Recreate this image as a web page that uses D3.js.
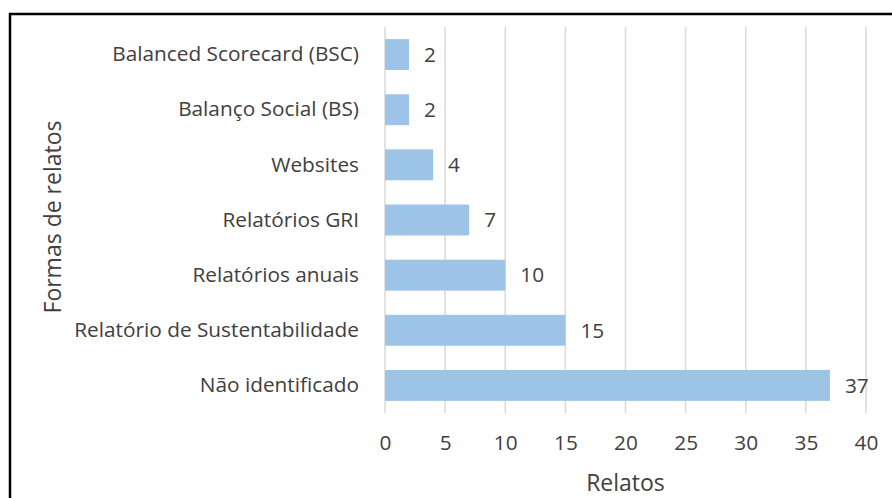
<!DOCTYPE html>
<html>
<head>
<meta charset="utf-8">
<script src="https://cdn.jsdelivr.net/npm/d3@7"></script>
<style>
  body { margin: 0; background: #fff; }
  svg text { font-family: "Open Sans", sans-serif; }
</style>
</head>
<body>
<div id="canvas"></div>
<script>
const categories = [
  "Balanced Scorecard (BSC)",
  "Balanço Social (BS)",
  "Websites",
  "Relatórios GRI",
  "Relatórios anuais",
  "Relatório de Sustentabilidade",
  "Não identificado",
];
const values = [2, 2, 4, 7, 10, 15, 37];
const xTicks = [0, 5, 10, 15, 20, 25, 30, 35, 40];
const xTitle = "Relatos";
const yTitle = "Formas de relatos";

const W = 892, H = 498;
const margin = { top: 27, right: 26, bottom: 85, left: 385 };
const width = 866 - margin.left;
const height = 413 - margin.top;

const svg = d3
  .select("#canvas")
  .append("svg")
  .attr("width", W)
  .attr("height", H);

// frame around the chart (runs off the right and bottom edges)
svg
  .append("rect")
  .attr("x", 10)
  .attr("y", 14)
  .attr("width", W)
  .attr("height", H)
  .attr("fill", "none")
  .attr("stroke", "#000")
  .attr("stroke-width", 2.5);

const g = svg
  .append("g")
  .attr("transform", "translate(" + margin.left + "," + margin.top + ")");

const x = d3.scaleLinear().domain([0, 40]).range([0, width]);
const y = d3
  .scaleBand()
  .domain(categories)
  .range([0, height])
  .paddingInner(0.44)
  .paddingOuter(0.22);

// grid
g.append("g")
  .selectAll("line")
  .data(xTicks)
  .join("line")
  .attr("x1", (d) => x(d))
  .attr("x2", (d) => x(d))
  .attr("y1", 0)
  .attr("y2", height)
  .attr("stroke", "#d9d9d9")
  .attr("stroke-width", 1.5);

// x axis labels
const xAxis = d3.axisBottom(x).tickValues(xTicks).tickSize(0).tickPadding(22);
g.append("g")
  .attr("transform", "translate(0," + height + ")")
  .call(xAxis)
  .call((s) => s.select(".domain").remove())
  .selectAll("text")
  .attr("fill", "#404040")
  .style("font-size", "20.8px");

// y axis labels
const yAxis = d3.axisLeft(y).tickSize(0).tickPadding(26);
g.append("g")
  .call(yAxis)
  .call((s) => s.select(".domain").remove())
  .selectAll("text")
  .attr("fill", "#404040")
  .style("font-size", "20.8px");

// bars
g.selectAll(".bar")
  .data(values)
  .join("rect")
  .attr("class", "bar")
  .attr("x", x(0))
  .attr("y", (d, i) => y(categories[i]))
  .attr("width", (d) => x(d) - x(0))
  .attr("height", y.bandwidth())
  .attr("fill", "#9dc3e6");

// value labels
g.selectAll(".val")
  .data(values)
  .join("text")
  .attr("class", "val")
  .attr("x", (d) => x(d) + 15)
  .attr("y", (d, i) => y(categories[i]) + y.bandwidth() / 2)
  .attr("dy", "0.35em")
  .attr("fill", "#404040")
  .style("font-size", "20.8px")
  .text((d) => d);

// axis titles
svg
  .append("text")
  .attr("x", margin.left + width / 2)
  .attr("y", 491)
  .attr("text-anchor", "middle")
  .attr("fill", "#404040")
  .style("font-size", "23px")
  .text(xTitle);

svg
  .append("text")
  .attr("transform", "translate(61,217) rotate(-90)")
  .attr("text-anchor", "middle")
  .attr("fill", "#404040")
  .style("font-size", "23px")
  .text(yTitle);
</script>
</body>
</html>
